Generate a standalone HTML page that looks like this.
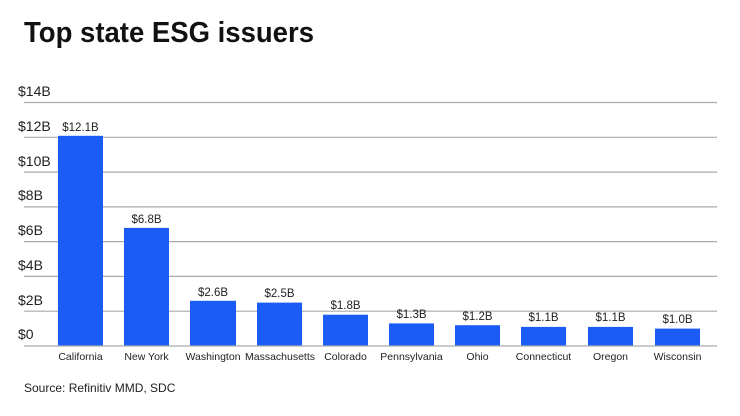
<!DOCTYPE html>
<html><head><meta charset="utf-8"><style>
body{margin:0;background:#fff}
svg{display:block;font-family:"Liberation Sans",sans-serif}
</style></head><body>
<svg width="740" height="416" viewBox="0 0 740 416" xmlns="http://www.w3.org/2000/svg">
<rect width="740" height="416" fill="#fff"/>
<text x="24" y="42" font-size="29" font-weight="bold" fill="#111" textLength="290" lengthAdjust="spacingAndGlyphs">Top state ESG issuers</text>
<g stroke="#aaa" stroke-width="1.2">
<line x1="24" x2="717" y1="102.5" y2="102.5"/>
<line x1="24" x2="717" y1="137.3" y2="137.3"/>
<line x1="24" x2="717" y1="172.1" y2="172.1"/>
<line x1="24" x2="717" y1="206.9" y2="206.9"/>
<line x1="24" x2="717" y1="241.6" y2="241.6"/>
<line x1="24" x2="717" y1="276.4" y2="276.4"/>
<line x1="24" x2="717" y1="311.2" y2="311.2"/>
</g>
<g font-size="14" fill="#222">
<text x="18" y="96">$14B</text>
<text x="18" y="131">$12B</text>
<text x="18" y="166">$10B</text>
<text x="18" y="200">$8B</text>
<text x="18" y="235">$6B</text>
<text x="18" y="270">$4B</text>
<text x="18" y="305">$2B</text>
<text x="18" y="339">$0</text>
</g>
<g fill="#1a5cf5">
<rect x="58" y="135.8" width="45" height="210.2"/>
<rect x="124" y="227.9" width="45" height="118.1"/>
<rect x="190" y="300.8" width="46" height="45.2"/>
<rect x="257" y="302.6" width="45" height="43.4"/>
<rect x="323" y="314.7" width="45" height="31.3"/>
<rect x="389" y="323.4" width="45" height="22.6"/>
<rect x="455" y="325.2" width="45" height="20.8"/>
<rect x="521" y="326.9" width="45" height="19.1"/>
<rect x="588" y="326.9" width="45" height="19.1"/>
<rect x="655" y="328.6" width="45" height="17.4"/>
</g>
<line x1="24" x2="717" y1="346" y2="346" stroke="#aaa" stroke-width="1.2"/>
<g font-size="11.5" fill="#222" text-anchor="middle">
<text x="80.5" y="131">$12.1B</text>
<text x="146.5" y="223">$6.8B</text>
<text x="213" y="296">$2.6B</text>
<text x="279.5" y="297">$2.5B</text>
<text x="345.5" y="309">$1.8B</text>
<text x="411.5" y="318">$1.3B</text>
<text x="477.5" y="320">$1.2B</text>
<text x="543.5" y="321">$1.1B</text>
<text x="610.5" y="321">$1.1B</text>
<text x="677.5" y="323">$1.0B</text>
</g>
<g font-size="10.5" fill="#222" text-anchor="middle">
<text x="80.5" y="360">California</text>
<text x="146.5" y="360">New York</text>
<text x="213" y="360">Washington</text>
<text x="280" y="360">Massachusetts</text>
<text x="345.5" y="360">Colorado</text>
<text x="411.5" y="360">Pennsylvania</text>
<text x="477.5" y="360">Ohio</text>
<text x="543.5" y="360">Connecticut</text>
<text x="610.5" y="360">Oregon</text>
<text x="677.5" y="360">Wisconsin</text>
</g>
<text x="24" y="392" font-size="12" fill="#222">Source: Refinitiv MMD, SDC</text>
</svg>
</body></html>
